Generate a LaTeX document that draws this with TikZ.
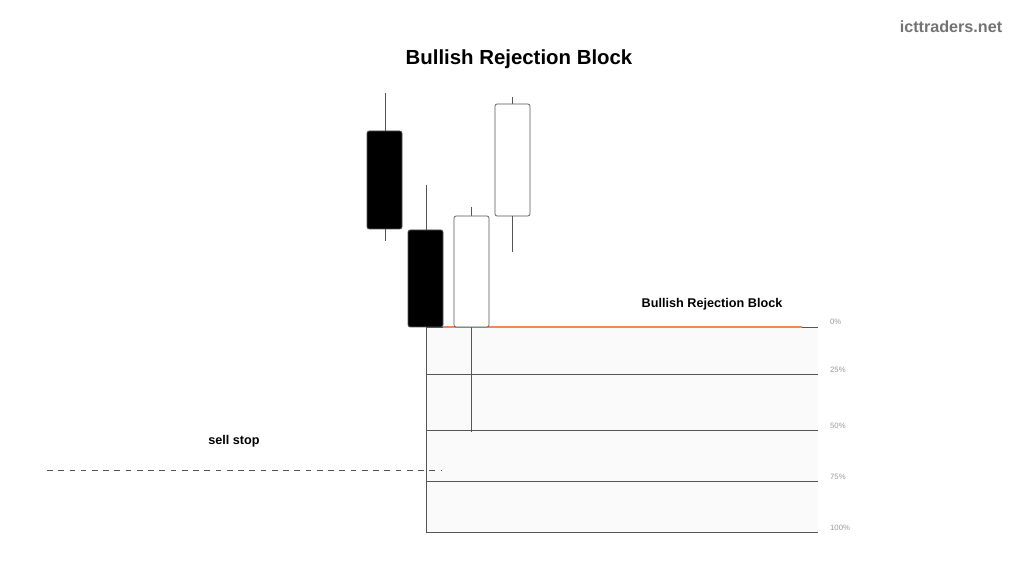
\documentclass[tikz,border=0pt]{standalone}
\usepackage{fontspec}
\setmainfont{Liberation Sans}
\definecolor{wickgray}{HTML}{555555}
\definecolor{zonefill}{HTML}{FAFAFA}
\definecolor{levelorange}{HTML}{F0885A}
\tikzset{
  candle/.style={draw=wickgray, rounded corners=1.5pt, line width=0.5pt},
  wick/.style={wickgray, line width=0.5pt},
  level/.style={draw=wickgray, line width=0.6pt},
  pct/.style={font=\fontsize{5.5}{6}\selectfont, text=gray!80, anchor=west},
  lbl/.style={font=\fontsize{9}{11}\selectfont\bfseries}
}
\begin{document}
\begin{tikzpicture}[x=0.025cm, y=-0.025cm]
  \useasboundingbox (0,0) rectangle (1024,576);

  % Title and site name
  \node[font=\fontsize{14.5}{18}\selectfont\bfseries] (title) at (519,59) {Bullish Rejection Block};
  \node[font=\fontsize{11.5}{14}\selectfont\bfseries, text=gray!90!black] (site) at (951,27) {icttraders.net};

  % Retracement zone
  \fill[zonefill] (426,327) rectangle (818,532);
  \foreach \y/\p in {374/25\%, 430/50\%, 481/75\%, 532/100\%}
    \draw[level] (426,\y) -- (818,\y) node[pct, xshift=5pt, yshift=3pt] {\p};
  \draw[level] (426,327) -- (818,327) node[pct, xshift=5pt, yshift=3.5pt] {0\%};
  \draw[levelorange, line width=0.9pt] (443,327) -- (802,327);
  \node[lbl] (block) at (712,304) {Bullish Rejection Block};

  % Candles
  \draw[wick] (385,93) -- (385,241);
  \fill[black, candle] (367,131) rectangle (402,229);
  \draw[wick] (426,185) -- (426,532);
  \fill[black, candle] (408,230) rectangle (443,327);
  \draw[wick] (471,207) -- (471,432);
  \filldraw[fill=white, candle] (454,216) rectangle (489,327);
  \draw[wick] (512,97) -- (512,252);
  \filldraw[fill=white, candle] (495,104) rectangle (530,216);

  % Sell stop
  \draw[wickgray, dash pattern=on 4pt off 4pt, line width=0.5pt] (47,470) -- (441,470);
  \node[lbl] (sellstop) at (234,441) {sell stop};
\end{tikzpicture}
\end{document}
